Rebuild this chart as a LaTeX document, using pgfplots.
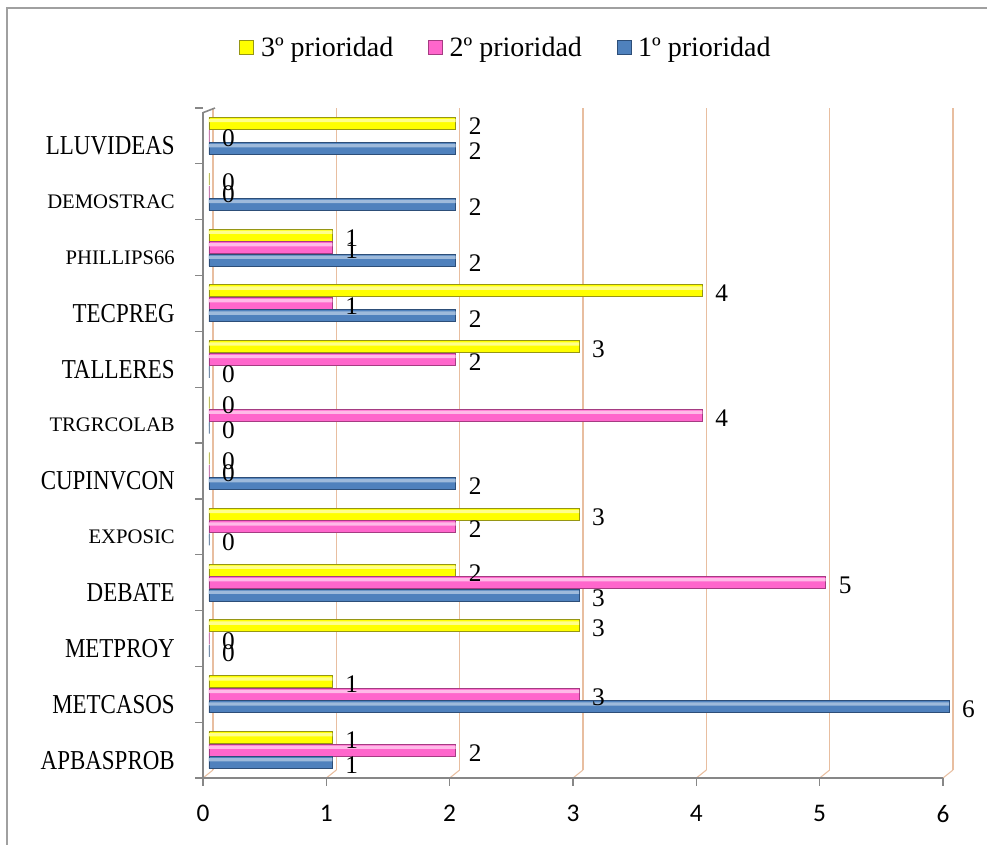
\documentclass[border=0pt]{standalone}
\usepackage{fontspec}
\usepackage{pgfplots}
\pgfplotsset{compat=1.18}
\setmainfont{Liberation Serif}
\newfontfamily\carlito{Carlito}

\definecolor{barY}{RGB}{255,255,0}
\definecolor{barYd}{RGB}{150,150,20}
\definecolor{barP}{RGB}{255,102,204}
\definecolor{barPd}{RGB}{165,60,130}
\definecolor{barB}{RGB}{79,129,189}
\definecolor{barBd}{RGB}{45,78,120}
\definecolor{gridtan}{RGB}{232,190,160}
\definecolor{axgray}{RGB}{135,135,135}
\definecolor{framegray}{RGB}{160,160,160}

\newcommand{\cat}[1]{\scalebox{0.84}[1]{\fontsize{20.5}{22}\selectfont #1}}
\newcommand{\catsm}[1]{{\fontsize{15.5}{18}\selectfont #1}}

\pgfplotsset{
  labels/.style={nodes near coords,
    nodes near coords style={font=\fontsize{19}{22}\selectfont, black,
      anchor=west, inner sep=0pt, xshift=9.5pt, yshift=-2pt}},
  shine/.style={forget plot, fill=#1, draw=none, bar width=2.5pt},
}

\begin{document}
\begin{tikzpicture}
\useasboundingbox (-156.75pt,-49.5pt) rectangle (583.5pt,583.5pt);
\draw[framegray, line width=1.5pt] (-151.5pt,-60pt) -- (-151.5pt,577.5pt) -- (600pt,577.5pt);
\begin{axis}[
  at={(0pt,0pt)}, anchor=south west,
  scale only axis,
  width=555pt, height=502.5pt,
  xmin=0, xmax=6, ymin=-0.5, ymax=11.5,
  axis line style={draw=none},
  major tick length=0pt,
  xtick={0,...,6},
  ytick={0,...,11},
  yticklabels={\cat{APBASPROB},\cat{METCASOS},\cat{METPROY},\cat{DEBATE},
    \catsm{EXPOSIC},\cat{CUPINVCON},\catsm{TRGRCOLAB},\cat{TALLERES},
    \cat{TECPREG},\catsm{PHILLIPS66},\catsm{DEMOSTRAC},\cat{LLUVIDEAS}},
  /pgf/number format/assume math mode=true,
  xticklabel style={font=\carlito\fontsize{19}{22}\selectfont, anchor=north,
    inner sep=0pt, xshift=-4.5pt, yshift=-20pt},
  yticklabel style={anchor=east, inner sep=0pt, xshift=-25.5pt, yshift=-7.5pt},
  xbar, bar width=9pt,
  point meta=x,
  legend columns=-1,
  legend style={at={(axis description cs:0.400,1.0896)}, anchor=center,
    draw=none, fill=none, font=\fontsize{21}{24}\selectfont,
    nodes={inner sep=0pt},
    /tikz/every odd column/.append style={column sep=5pt},
    /tikz/every even column/.append style={column sep=26pt}},
  legend image code/.code={\fill[#1] (0pt,-5.25pt) rectangle (10.5pt,5.25pt);},
  clip=false,
]
% back wall grid lines and 3D floor
\pgfplotsinvokeforeach{0,...,6}{
  \draw[gridtan, line width=1.2pt] ([xshift=3pt,yshift=6pt]axis cs:#1,-0.5) -- ([xshift=3pt]axis cs:#1,11.5);
  \draw[gridtan, line width=0.8pt] ([xshift=-4.5pt]axis cs:#1,-0.5) -- ([xshift=3pt,yshift=6pt]axis cs:#1,-0.5);
  \draw[axgray, line width=1pt] ([xshift=-4.5pt]axis cs:#1,-0.5) -- ++(0pt,-6pt);
}
% front frame
\draw[axgray, line width=1.2pt] ([xshift=-4.5pt]axis cs:6,-0.5) -- ([xshift=-4.5pt]axis cs:0,-0.5)
  -- ([xshift=-4.5pt,yshift=-3.5pt]axis cs:0,11.5) -- ([xshift=4.5pt,yshift=0pt]axis cs:0,11.5);
\pgfplotsinvokeforeach{0,...,12}{
  \draw[axgray, line width=1pt] ([xshift=-4.5pt]axis cs:0,#1-0.5) -- ++(-6pt,0pt);
}

% 3º prioridad
\addplot[labels, fill=barY, draw=barYd, line width=0.7pt, bar shift=9.4pt] coordinates {
  (1,0) (1,1) (3,2) (2,3) (3,4) (0,5) (0,6) (3,7) (4,8) (1,9) (0,10) (2,11)};
% 2º prioridad
\addplot[labels, fill=barP, draw=barPd, line width=0.7pt, bar shift=0pt] coordinates {
  (2,0) (3,1) (0,2) (5,3) (2,4) (0,5) (4,6) (2,7) (1,8) (1,9) (0,10) (0,11)};
% 1º prioridad
\addplot[labels, fill=barB, draw=barBd, line width=0.7pt, bar shift=-9.4pt] coordinates {
  (1,0) (6,1) (0,2) (3,3) (0,4) (2,5) (0,6) (0,7) (2,8) (2,9) (2,10) (2,11)};
\legend{3º prioridad, 2º prioridad, 1º prioridad}

% light stripe along the top of each bar
\addplot[shine=barY!45!white, bar shift=11.5pt] coordinates {
  (1,0) (1,1) (3,2) (2,3) (3,4) (0,5) (0,6) (3,7) (4,8) (1,9) (0,10) (2,11)};
\addplot[shine=barP!45!white, bar shift=2.1pt] coordinates {
  (2,0) (3,1) (0,2) (5,3) (2,4) (0,5) (4,6) (2,7) (1,8) (1,9) (0,10) (0,11)};
\addplot[shine=barB!55!white, bar shift=-7.3pt] coordinates {
  (1,0) (6,1) (0,2) (3,3) (0,4) (2,5) (0,6) (0,7) (2,8) (2,9) (2,10) (2,11)};
\end{axis}
\end{tikzpicture}
\end{document}
